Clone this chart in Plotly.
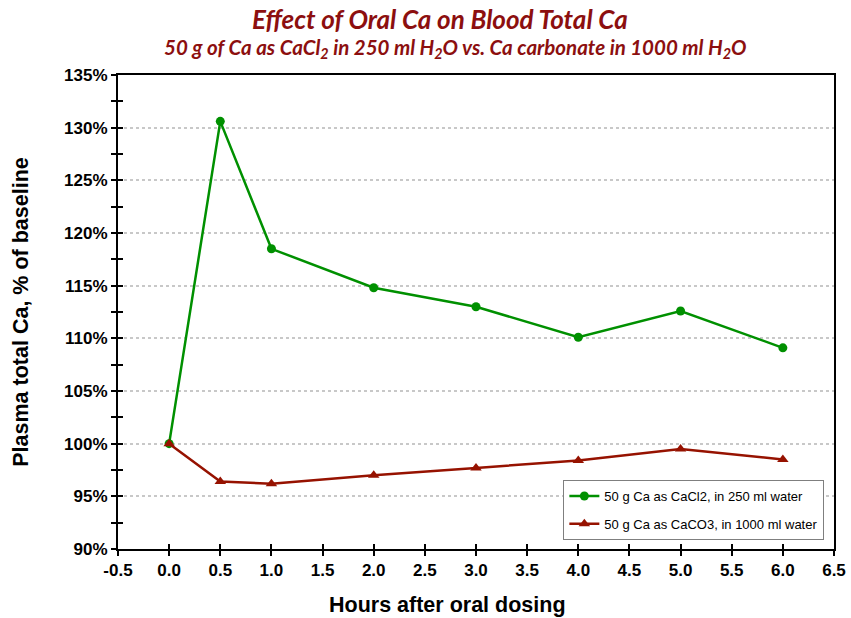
import plotly.graph_objects as go

hours = [0.0, 0.5, 1.0, 2.0, 3.0, 4.0, 5.0, 6.0]
cacl2 = [100.0, 130.6, 118.5, 114.8, 113.0, 110.1, 112.6, 109.1]
caco3 = [100.0, 96.4, 96.2, 97.0, 97.7, 98.4, 99.5, 98.5]

x_tickvals = [-0.5, 0.0, 0.5, 1.0, 1.5, 2.0, 2.5, 3.0, 3.5, 4.0, 4.5, 5.0, 5.5, 6.0, 6.5]
x_ticktext = ["-0.5", "0.0", "0.5", "1.0", "1.5", "2.0", "2.5", "3.0", "3.5",
              "4.0", "4.5", "5.0", "5.5", "6.0", "6.5"]

name_cacl2 = "50 g Ca as CaCl2, in 250 ml water"
name_caco3 = "50 g Ca as CaCO3, in 1000 ml water"

title_main = "Effect of Oral Ca on Blood Total Ca"
title_sub = "50 g of Ca as CaCl<sub>2</sub> in 250 ml H<sub>2</sub>O vs. Ca carbonate in 1000 ml H<sub>2</sub>O"
x_title = "Hours after oral dosing"
y_title = "Plasma total Ca, % of baseline"

x_range = [-0.5, 6.5]
y_range = [90, 135]

green = "#009000"
red = "#961200"
title_col = "#8C0F0F"

fig = go.Figure()
fig.add_trace(go.Scatter(x=hours, y=cacl2, name=name_cacl2, mode="lines+markers",
                         legendgroup="a",
                         line=dict(color=green, width=2.5),
                         marker=dict(symbol="circle", size=9, color=green)))
fig.add_trace(go.Scatter(x=hours, y=caco3, name=name_caco3, mode="lines+markers",
                         legendgroup="b",
                         line=dict(color=red, width=2.5),
                         marker=dict(symbol="triangle-up", size=10, color=red)))
# invisible trace on overlay axes (for inward ticks)
fig.add_trace(go.Scatter(x=[x_range[0]], y=[y_range[0]], xaxis="x2", yaxis="y2",
                         mode="markers", marker=dict(opacity=0), showlegend=False,
                         hoverinfo="skip"))

tickfont = dict(family="Liberation Sans, Arial", size=17, color="black", weight="bold")
titlefont = dict(family="Liberation Sans, Arial", size=21.5, color="black", weight="bold")

fig.update_layout(
    width=851, height=618,
    margin=dict(l=118, r=17, t=75, b=69),
    paper_bgcolor="white", plot_bgcolor="white",
    xaxis=dict(range=x_range, tickmode="array", tickvals=x_tickvals, ticktext=x_ticktext,
               showgrid=False, zeroline=False, automargin=False,
               showline=True, linecolor="black", linewidth=2, mirror=True,
               ticks="outside", ticklen=5, tickwidth=2, tickcolor="black",
               tickfont=tickfont),
    yaxis=dict(range=y_range, dtick=5, tick0=90, ticksuffix="%",
               showgrid=True, gridcolor="#c8c8c8", griddash="dot", gridwidth=1.5,
               zeroline=False, automargin=False,
               showline=True, linecolor="black", linewidth=2, mirror=True,
               ticks="outside", ticklen=5, tickwidth=2, tickcolor="black",
               minor=dict(dtick=2.5, tick0=90, ticks="outside", ticklen=5,
                          tickwidth=2, tickcolor="black", showgrid=False),
               tickfont=tickfont,
               title=dict(text=y_title, standoff=30, font=titlefont)),
    xaxis2=dict(range=x_range, tickmode="array", tickvals=x_tickvals, overlaying="x",
                anchor="y2",
                showgrid=False, zeroline=False, showline=False, showticklabels=False,
                automargin=False,
                ticks="inside", ticklen=5, tickwidth=2, tickcolor="black"),
    yaxis2=dict(range=y_range, dtick=5, tick0=90, overlaying="y", anchor="x2", side="left",
                showgrid=False, zeroline=False, showline=False, showticklabels=False,
                automargin=False,
                ticks="inside", ticklen=5, tickwidth=2, tickcolor="black",
                minor=dict(dtick=2.5, tick0=90, ticks="inside", ticklen=5,
                           tickwidth=2, tickcolor="black", showgrid=False)),
    legend=dict(x=0.622, y=0.019, xanchor="left", yanchor="bottom",
                bgcolor="white", bordercolor="#7f7f7f", borderwidth=1,
                font=dict(family="Liberation Sans, Arial", size=13, color="black"),
                tracegroupgap=8, itemwidth=30),
    showlegend=True,
    annotations=[
        dict(text="<b><i>" + title_main + "</i></b>", xref="paper", yref="paper",
             x=0.45, y=1.0, xanchor="center", yanchor="bottom", yshift=38,
             showarrow=False, font=dict(family="Lato, Open Sans", size=26, color=title_col)),
        dict(text="<b><i>" + title_sub + "</i></b>", xref="paper", yref="paper",
             x=0.471, y=1.0, xanchor="center", yanchor="bottom", yshift=11,
             showarrow=False, font=dict(family="Lato, Open Sans", size=20.5, color=title_col)),
        dict(text=x_title, xref="paper", yref="paper",
             x=0.4595, y=0.0, xanchor="center", yanchor="middle", yshift=-56,
             showarrow=False, font=titlefont),
    ],
)

fig.write_html("out.html", post_script="document.body.style.margin='0';",
               config={"displayModeBar": False})
